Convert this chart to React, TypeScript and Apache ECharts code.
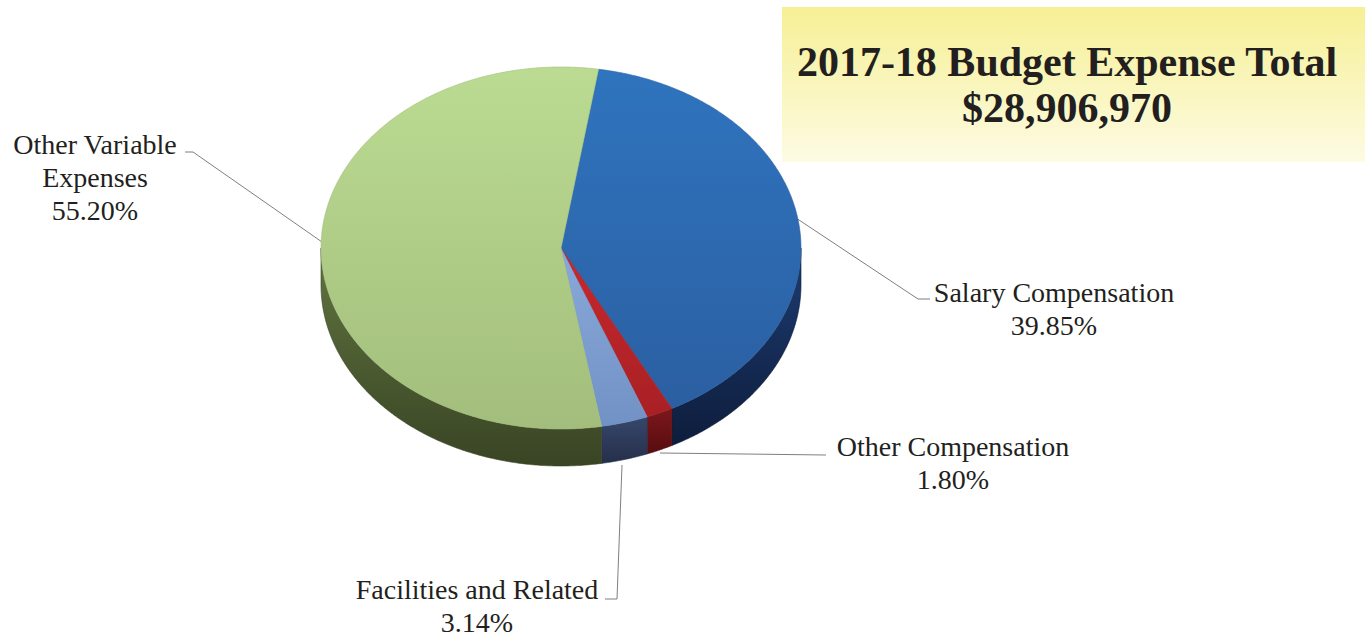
import React, { useEffect, useRef } from 'react';
import * as echarts from 'echarts';

// ---- data ----
const categories = ['Salary Compensation', 'Other Compensation', 'Facilities and Related', 'Other Variable Expenses'];
const shares = [39.85, 1.8, 3.14, 55.2];
const labelNameLines = [['Salary Compensation'], ['Other Compensation'], ['Facilities and Related'], ['Other Variable', 'Expenses']];
const titleLines = ['2017-18 Budget Expense Total', '$28,906,970'];

// ---- style ----
const topColors = [
  ['#2f74be', '#2b5fa2'],
  ['#c8282d', '#a82024'],
  ['#89a9da', '#7292c6'],
  ['#bbdb92', '#a3be7c'],
];
const sideColors = [
  ['#1d3c72', '#0e1d3c'],
  ['#7d171b', '#560d10'],
  ['#36476c', '#252f49'],
  ['#617540', '#394424'],
];

const CX = 561;
const CY = 248;
const RX = 240;
const RY = 181;
const DEPTH = 37;
const START_DEG = 9;
const FONT = '"Liberation Serif", "DejaVu Serif", serif';
const TEXT_COLOR = '#231f20';
const LINE_COLOR = '#7f7f7f';

const total = shares.reduce((a, b) => a + b, 0);
const cumBefore = shares.map((_, i) => shares.slice(0, i).reduce((a, b) => a + b, 0));
const seriesData = shares.map((v, i) => ({ name: categories[i], value: [v, cumBefore[i]] }));

const pt = (deg: number, dy = 0) => {
  const r = (deg * Math.PI) / 180;
  return [CX + RX * Math.sin(r), CY - RY * Math.cos(r) + dy];
};

const arcPoints = (a: number, b: number, dy = 0) => {
  const pts: number[][] = [];
  const steps = Math.max(2, Math.ceil((b - a) / 0.5));
  for (let s = 0; s <= steps; s++) pts.push(pt(a + ((b - a) * s) / steps, dy));
  return pts;
};

const renderItem = (params: any, api: any) => {
  const i = params.dataIndex;
  const v = api.value(0);
  const c = api.value(1);
  const t1 = START_DEG + (c / total) * 360;
  const t2 = t1 + (v / total) * 360;
  const children: any[] = [];
  const a = Math.max(t1, 90);
  const b = Math.min(t2, 270);
  if (a < b) {
    const top = arcPoints(a, b);
    const bottom = arcPoints(a, b, DEPTH).reverse();
    children.push({
      type: 'polygon',
      shape: { points: top.concat(bottom) },
      style: {
        fill: new echarts.graphic.LinearGradient(0, 0, 0, 1, [
          { offset: 0, color: sideColors[i][0] },
          { offset: 1, color: sideColors[i][1] },
        ]),
        stroke: sideColors[i][1],
        lineWidth: 0.6,
      },
      z2: 1,
    });
  }
  children.push({
    type: 'polygon',
    shape: { points: [[CX, CY]].concat(arcPoints(t1, t2)) },
    style: {
      fill: new echarts.graphic.LinearGradient(0, 0, 0, 1, [
        { offset: 0, color: topColors[i][0] },
        { offset: 1, color: topColors[i][1] },
      ]),
      stroke: topColors[i][1],
      lineWidth: 0.6,
    },
    z2: 10,
  });
  return { type: 'group', children };
};

// label layout
const labelPos = [
  { x: 1054, baseline: 301 },
  { x: 953, baseline: 455 },
  { x: 477, baseline: 598 },
  { x: 95, baseline: 153 },
];
const leaderLines = [
  [[796, 218], [918, 299], [930, 299]],
  [[660, 453], [826, 455]],
  [[622, 465], [617, 599], [605, 599]],
  [[185, 152], [193, 152], [322, 242]],
];
const LINE_H = 33;

const App: React.FC = () => {
  const ref = useRef<HTMLDivElement>(null);
  useEffect(() => {
    document.body.style.margin = '0';
    if (!ref.current) return;
    const chart = echarts.init(ref.current, undefined, { renderer: 'svg' });

    const graphics: any[] = [];
    graphics.push({
      type: 'rect',
      shape: { x: 782, y: 7, width: 583, height: 155 },
      style: {
        fill: new echarts.graphic.LinearGradient(0, 0, 0, 1, [
          { offset: 0, color: '#f6f095' },
          { offset: 1, color: '#fdfbe3' },
        ]),
      },
      z: 0,
    });
    titleLines.forEach((t, k) => {
      graphics.push({
        type: 'text',
        x: 1067,
        y: 62 + k * 46,
        style: {
          text: t,
          font: `bold 42px ${FONT}`,
          fill: TEXT_COLOR,
          textAlign: 'center',
          textVerticalAlign: 'middle',
        },
        z: 1,
      });
    });
    leaderLines.forEach((pts) => {
      graphics.push({
        type: 'polyline',
        shape: { points: pts },
        style: { stroke: LINE_COLOR, lineWidth: 1, fill: null },
        z: 1,
      });
    });
    shares.forEach((v, i) => {
      const lines = labelNameLines[i].concat([v.toFixed(2) + '%']);
      lines.forEach((ln, k) => {
        graphics.push({
          type: 'text',
          x: labelPos[i].x,
          y: labelPos[i].baseline - 9 + k * LINE_H,
          style: {
            text: ln,
            font: `28px ${FONT}`,
            fill: TEXT_COLOR,
            textAlign: 'center',
            textVerticalAlign: 'middle',
          },
          z: 1,
        });
      });
    });

    chart.setOption({
      animation: false,
      backgroundColor: '#ffffff',
      graphic: { elements: graphics },
      series: [
        {
          type: 'custom',
          coordinateSystem: 'none',
          silent: true,
          renderItem,
          data: seriesData,
          z: 5,
        },
      ],
    });
    return () => chart.dispose();
  }, []);
  return <div ref={ref} style={{ width: 1369, height: 640 }} />;
};

export default App;
